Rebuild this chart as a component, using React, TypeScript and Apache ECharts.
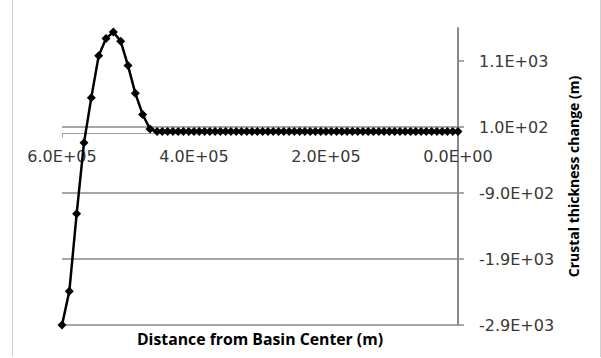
import React, { useEffect, useRef } from "react";
import * as echarts from "echarts";

// Distance from basin center (m) and crustal thickness change (m)
const distance: number[] = [
  600000, 588900, 577800, 566700, 555600, 544400, 533300, 522200, 511100,
  500000, 488900, 477800, 466700,
  456000, 448000, 440000, 432000, 424000, 416000, 408000, 400000, 392000,
  384000, 376000, 368000, 360000, 352000, 344000, 336000, 328000, 320000,
  312000, 304000, 296000, 288000, 280000, 272000, 264000, 256000, 248000,
  240000, 232000, 224000, 216000, 208000, 200000, 192000, 184000, 176000,
  168000, 160000, 152000, 144000, 136000, 128000, 120000, 112000, 104000,
  96000, 88000, 80000, 72000, 64000, 56000, 48000, 40000, 32000, 24000,
  16000, 8000, 0,
];

const thicknessChange: number[] = [
  -2900, -2390, -1215, -140, 545, 1180, 1440, 1540, 1400, 1030, 610, 290, 70,
  30, 30, 30, 30, 30, 30, 30, 30, 30, 30, 30, 30, 30, 30, 30, 30, 30, 30, 30,
  30, 30, 30, 30, 30, 30, 30, 30, 30, 30, 30, 30, 30, 30, 30, 30, 30, 30, 30,
  30, 30, 30, 30, 30, 30, 30, 30, 30, 30, 30, 30, 30, 30, 30, 30, 30, 30, 30,
  30,
];

const yTicks: number[] = [-2900, -1900, -900, 100, 1100];
const xTicks: number[] = [600000, 400000, 200000, 0];

const xTitle = "Distance from Basin Center (m)";
const yTitle = "Crustal thickness change (m)";

const yMin = -2900;
const yMax = 1600;

// Plot box
const gridLeft = 62;
const gridRight = 143;
const gridTop = 28;
const gridBottom = 33;
const chartH = 358;

// Scientific notation with a two-digit exponent, e.g. 6.0E+05
function sci(v: number): string {
  const [mant, exp] = v.toExponential(1).split("e");
  const sign = exp[0] === "-" ? "-" : "+";
  const digits = exp.replace(/^[+-]/, "").padStart(2, "0");
  return `${mant}E${sign}${digits}`;
}

const gridColor = "#8a8a8a";
const labelColor = "#383838";
const tickFont = "DejaVu Sans";
const titleFont = "Open Sans";

export default function App() {
  const ref = useRef<HTMLDivElement>(null);

  useEffect(() => {
    if (!ref.current) return;
    const chart = echarts.init(ref.current, null, { renderer: "svg" });
    const points = distance.map((d, i) => [d, thicknessChange[i]]);

    // lift the horizontal axis from the plot bottom up to the zero level
    const plotH = chartH - gridTop - gridBottom;
    const zeroLift = -((0 - yMin) / (yMax - yMin)) * plotH;

    chart.setOption({
      animation: false,
      backgroundColor: "#ffffff",
      grid: { left: gridLeft, right: gridRight, top: gridTop, bottom: gridBottom },
      xAxis: {
        type: "value",
        inverse: true,
        min: 0,
        max: 600000,
        interval: 200000,
        offset: zeroLift,
        axisLine: {
          show: true,
          onZero: false,
          lineStyle: { color: "#a0a0a0", width: 1 },
        },
        axisTick: {
          show: true,
          customValues: [600000],
          length: 4,
          lineStyle: { color: "#a0a0a0" },
        },
        splitLine: { show: false },
        axisLabel: {
          customValues: xTicks,
          formatter: (v: number) => sci(v),
          color: labelColor,
          fontFamily: tickFont,
          fontSize: 16,
          margin: 15,
        },
      },
      yAxis: {
        type: "value",
        position: "right",
        min: yMin,
        max: yMax,
        interval: 1000,
        name: yTitle,
        nameLocation: "middle",
        nameGap: 108,
        nameTextStyle: {
          fontFamily: titleFont,
          fontWeight: "bold",
          fontSize: 14,
          color: "#000000",
        },
        axisLine: {
          show: true,
          onZero: false,
          lineStyle: { color: gridColor, width: 2 },
        },
        axisTick: {
          show: true,
          customValues: yTicks,
          length: 6,
          lineStyle: { color: gridColor, width: 1.5 },
        },
        splitLine: {
          show: true,
          showMaxLine: false,
          lineStyle: { color: gridColor, width: 1.5 },
        },
        axisLabel: {
          customValues: yTicks,
          formatter: (v: number) => sci(v),
          color: labelColor,
          fontFamily: tickFont,
          fontSize: 16,
          margin: 21,
        },
      },
      graphic: [
        {
          type: "line",
          shape: { x1: 12.5, y1: 0, x2: 12.5, y2: 357 },
          style: { stroke: "#d0d0d0", lineWidth: 1 },
        },
        {
          type: "line",
          shape: { x1: 600.5, y1: 0, x2: 600.5, y2: 357 },
          style: { stroke: "#d0d0d0", lineWidth: 1 },
        },
        {
          type: "text",
          x: 260,
          y: 339,
          style: {
            text: xTitle,
            fontFamily: titleFont,
            fontWeight: "bold",
            fontSize: 15.8,
            fill: "#000000",
            align: "center",
            verticalAlign: "middle",
          },
        },
      ],
      series: [
        {
          type: "line",
          data: points,
          symbol: "diamond",
          symbolSize: 9,
          showSymbol: true,
          lineStyle: { color: "#000000", width: 2.5 },
          itemStyle: { color: "#000000" },
          z: 5,
        },
      ],
    });

    return () => chart.dispose();
  }, []);

  return (
    <div
      ref={ref}
      style={{ position: "fixed", left: 0, top: 0, width: 601, height: 358 }}
    />
  );
}
